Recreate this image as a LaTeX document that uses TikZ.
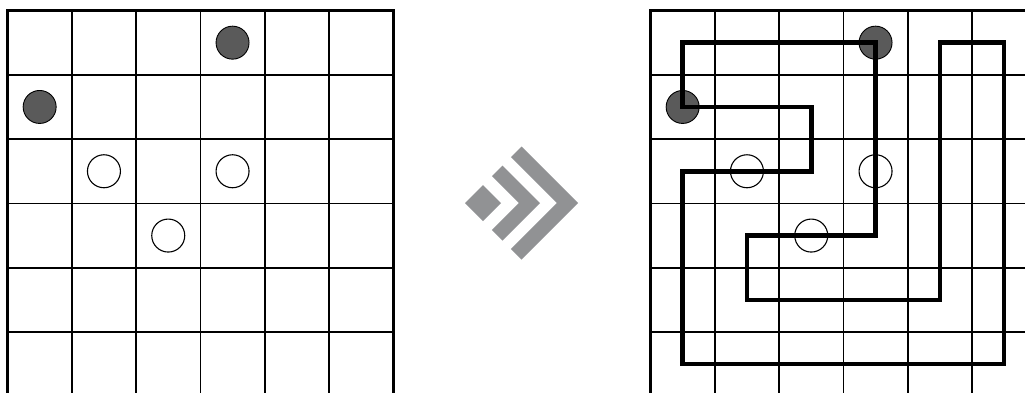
\documentclass[tikz,border=0pt]{standalone}
\definecolor{dotgray}{RGB}{90,90,90}
\definecolor{arrowgray}{RGB}{145,146,148}
\tikzset{
 gridline/.style={line width=1.6pt, black},
 gridborder/.style={line width=2.4pt, black},
 soln/.style={line width=4.6pt, black, line join=miter},
 blackdot/.style={circle, draw=black, line width=0.9pt, fill=dotgray, minimum size=33pt, inner sep=0pt},
 whitedot/.style={circle, draw=black, line width=1.1pt, minimum size=33pt, inner sep=0pt},
 chev/.style={fill=arrowgray, draw=none},
}
\begin{document}
\begin{tikzpicture}[x=1pt,y=-1pt]
\path[use as bounding box] (0,0) rectangle (1025,392);
\clip (0,0) rectangle (1025,392);
\def\cs{64.3}
% left grid (puzzle)
\begin{scope}[shift={(7.5,10.5)}]
 \foreach \i in {1,...,5} {
   \draw[gridline] (\i*\cs,0) -- (\i*\cs,6*\cs);
   \draw[gridline] (0,\i*\cs) -- (6*\cs,\i*\cs);
 }
 \draw[gridborder] (0,0) rectangle (6*\cs,6*\cs);
 \node[blackdot] (lb1) at (3.5*\cs,0.5*\cs) {};
 \node[blackdot] (lb2) at (0.5*\cs,1.5*\cs) {};
 \node[whitedot] (lw1) at (1.5*\cs,2.5*\cs) {};
 \node[whitedot] (lw2) at (3.5*\cs,2.5*\cs) {};
 \node[whitedot] (lw3) at (2.5*\cs,3.5*\cs) {};
\end{scope}
% arrow
\fill[chev] (521.5,146.5) -- (578,203) -- (521.5,259.5) -- (510.9,248.9) -- (556.8,203) -- (510.9,157.1) -- cycle;
\fill[chev] (502.5,165.5) -- (540,203) -- (502.5,240.5) -- (491.9,229.9) -- (518.8,203) -- (491.9,176.1) -- cycle;
\fill[chev] (465,203) -- (483,185) -- (501,203) -- (483,221) -- cycle;
% right grid (solution)
\begin{scope}[shift={(650.5,10.5)}]
 \foreach \i in {1,...,5} {
   \draw[gridline] (\i*\cs,0) -- (\i*\cs,6*\cs);
   \draw[gridline] (0,\i*\cs) -- (6*\cs,\i*\cs);
 }
 \draw[gridborder] (0,0) rectangle (6*\cs,6*\cs);
 \node[blackdot] (rb1) at (3.5*\cs,0.5*\cs) {};
 \node[blackdot] (rb2) at (0.5*\cs,1.5*\cs) {};
 \node[whitedot] (rw1) at (1.5*\cs,2.5*\cs) {};
 \node[whitedot] (rw2) at (3.5*\cs,2.5*\cs) {};
 \node[whitedot] (rw3) at (2.5*\cs,3.5*\cs) {};
 \foreach \c/\r in {3/0,0/0,0/1,2/1,2/2,0/2,0/5,5/5,5/0,4/0,4/4,1/4,1/3,3/3}
   \coordinate (p\c\r) at ({(\c+0.5)*\cs},{(\r+0.5)*\cs});
 \draw[soln] (p30) -- (p00) -- (p01) -- (p21) -- (p22) -- (p02) -- (p05) -- (p55)
   -- (p50) -- (p40) -- (p44) -- (p14) -- (p13) -- (p33) -- cycle;
\end{scope}
\end{tikzpicture}
\end{document}
